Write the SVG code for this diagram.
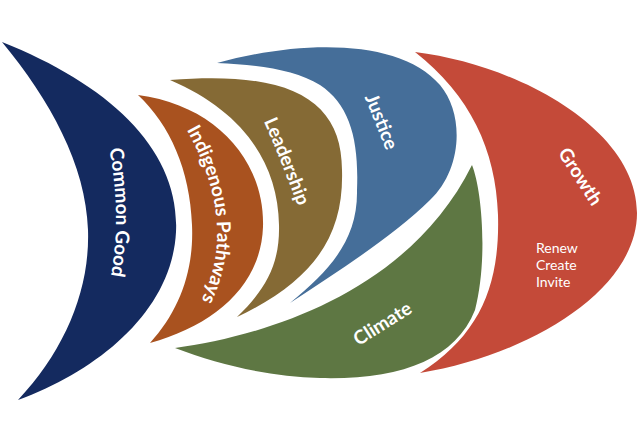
<svg xmlns="http://www.w3.org/2000/svg" width="640" height="439" viewBox="0 0 640 439">
<style>
.lbl{font-family:Lato,"Open Sans","Liberation Sans",sans-serif;font-weight:700;font-size:19px;fill:#fff}
.sub{font-family:Lato,"Open Sans","Liberation Sans",sans-serif;font-size:14px;fill:#fff}
</style>
<defs>
<path id="pCommon" d="M105,130 Q126,216 107,295"/>
<path id="pIndig" d="M175,110 Q251,229 190,320"/>
<path id="pLead" d="M254,99 Q283,163 306,229"/>
<path id="pJust" d="M356,77 Q376,124 394,171"/>
<path id="pGrow" d="M548,138 Q575,180 602,222"/>
<path id="pClim" d="M343,356 Q386,329 429,302"/>
</defs>
<rect width="640" height="439" fill="#fff"/>
<g id="common-good">
<path fill="#142a5f" d="M2,42 C110,85 180,150 176,232 C172,310 100,370 18,400 C65,350 90,290 88,230 C86,165 50,100 2,42 Z"/>
<text class="lbl"><textPath href="#pCommon" startOffset="50%" text-anchor="middle">Common Good</textPath></text>
</g>
<g id="indigenous-pathways">
<path fill="#a9521f" d="M138,95 C215,105 265,160 263,227 C261,285 215,325 150,343 C180,310 194,270 192,225 C190,170 170,125 138,95 Z"/>
<text class="lbl"><textPath href="#pIndig" startOffset="50%" text-anchor="middle">Indigenous Pathways</textPath></text>
</g>
<g id="leadership">
<path fill="#856a35" d="M170,80 C290,70 342,100 342,170 C344,235 315,280 237,317 C265,290 280,265 279,225 C278,160 240,110 170,80 Z"/>
<text class="lbl"><textPath href="#pLead" startOffset="50%" text-anchor="middle">Leadership</textPath></text>
</g>
<g id="justice">
<path fill="#456e99" d="M217,63 C300,40 400,38 440,85 C465,115 462,170 430,200 C395,235 340,270 290,303 C330,270 358,240 357,190 C359,140 350,105 320,85 C295,70 260,65 217,63 Z"/>
<text class="lbl"><textPath href="#pJust" startOffset="50%" text-anchor="middle">Justice</textPath></text>
</g>
<g id="climate">
<path fill="#5e7743" d="M175,348 C270,335 410,290 472,165 C482,190 488,260 475,310 C455,360 400,380 320,378 C270,377 220,365 175,348 Z"/>
<text class="lbl"><textPath href="#pClim" startOffset="50%" text-anchor="middle">Climate</textPath></text>
</g>
<g id="growth">
<path fill="#c44a39" d="M415,52 C520,65 637,130 637,213 C637,290 530,355 420,373 C480,335 500,285 498,215 C496,150 470,95 415,52 Z"/>
<text class="lbl"><textPath href="#pGrow" startOffset="50%" text-anchor="middle">Growth</textPath></text>
<text class="sub" x="536" y="253">Renew</text>
<text class="sub" x="536" y="270">Create</text>
<text class="sub" x="536" y="287">Invite</text>
</g>
<g id="connectors"></g>
</svg>
